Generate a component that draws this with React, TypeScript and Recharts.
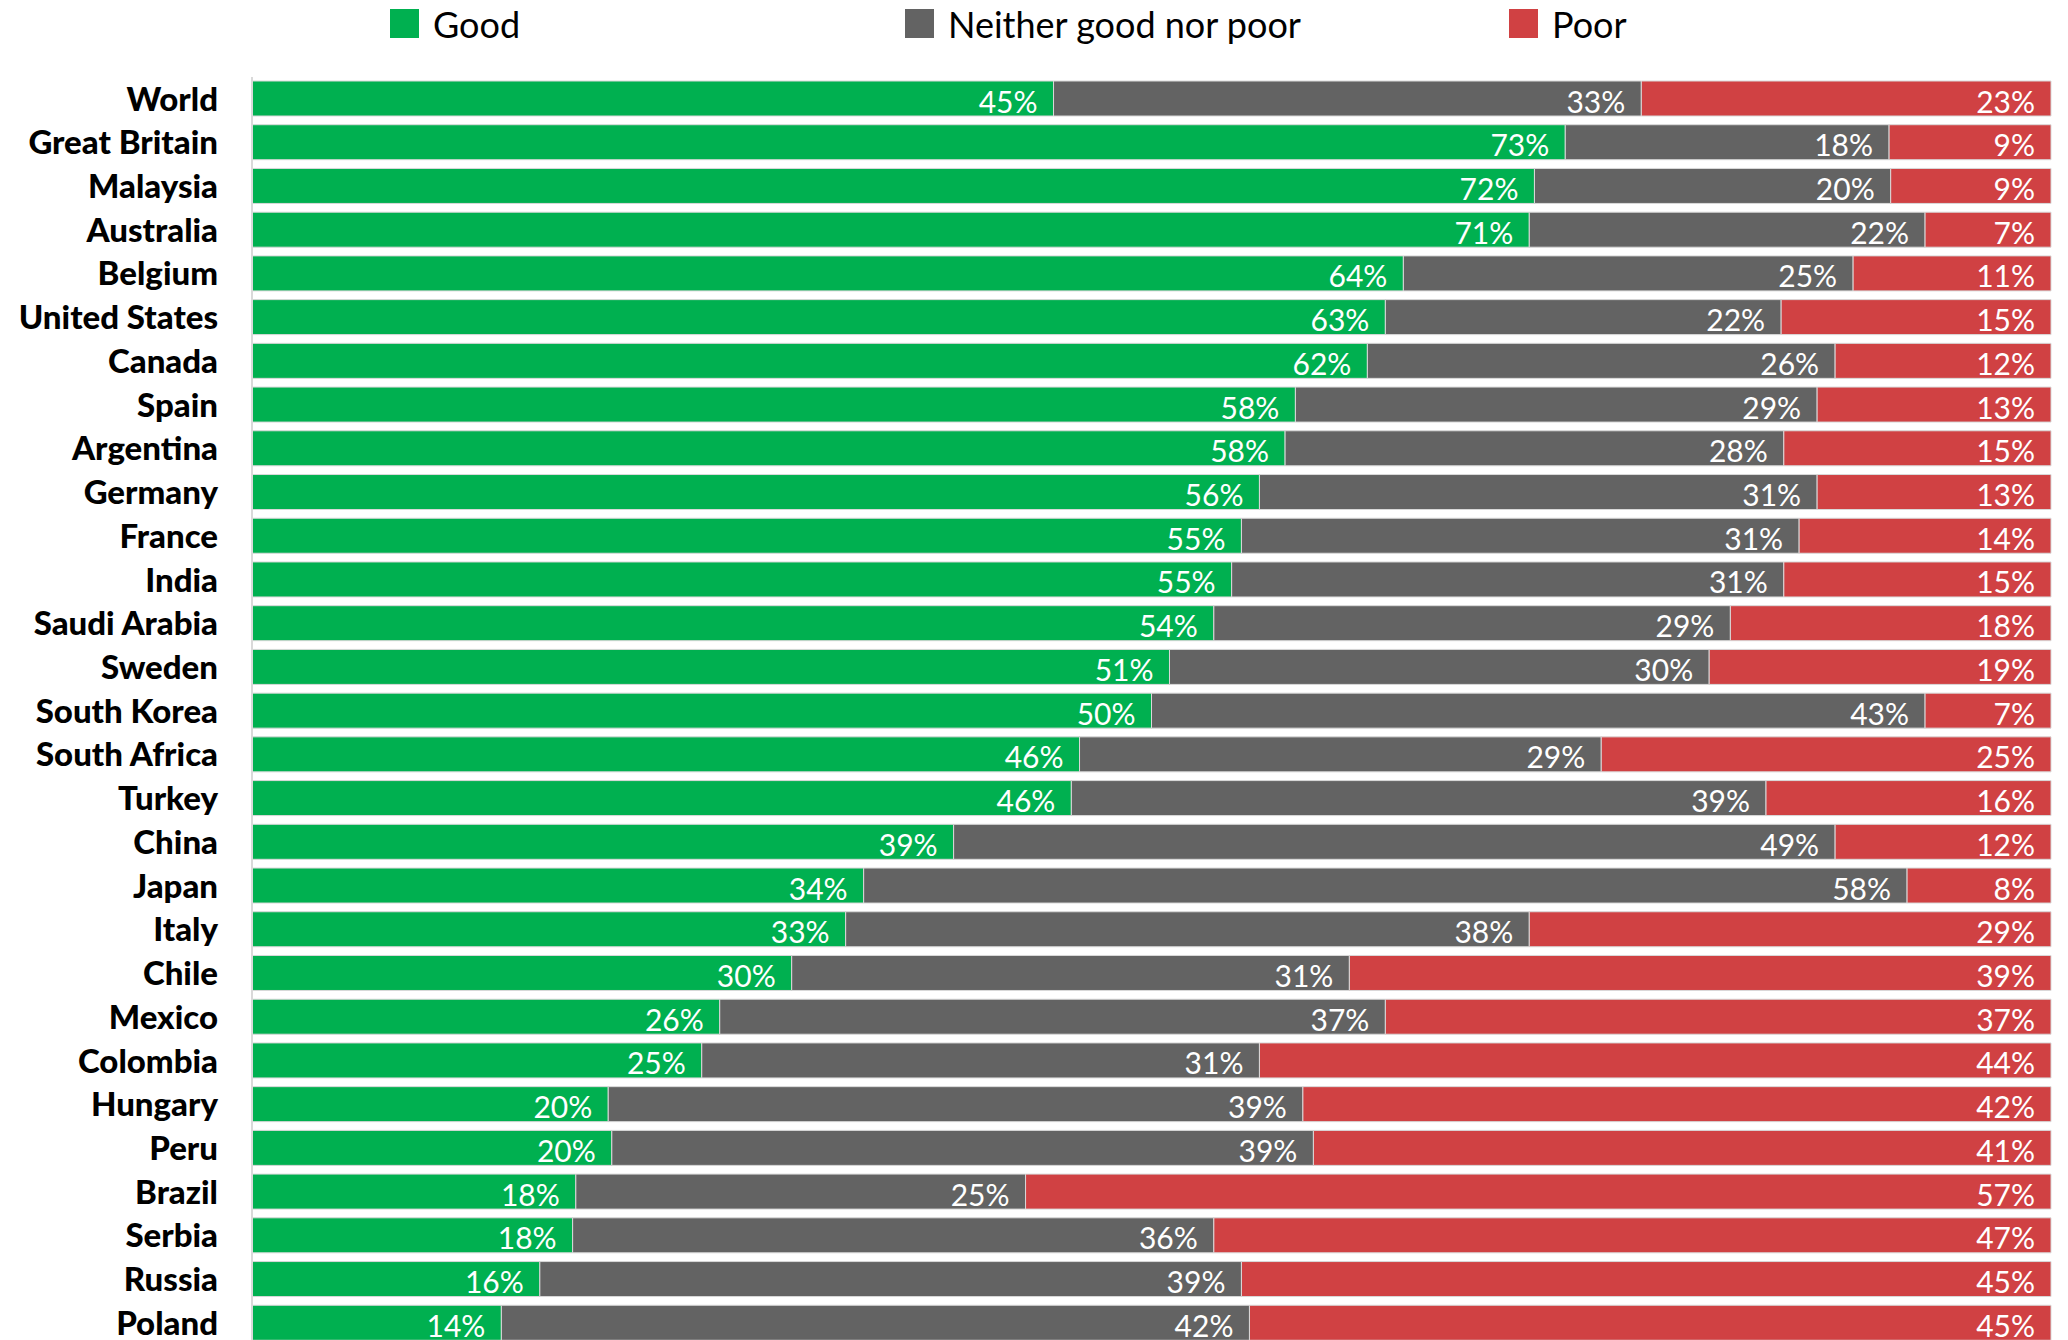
import React from 'react';
import { BarChart, Bar, XAxis, YAxis, Legend, LabelList } from 'recharts';

const countries = [
  'World', 'Great Britain', 'Malaysia', 'Australia', 'Belgium', 'United States', 'Canada',
  'Spain', 'Argentina', 'Germany', 'France', 'India', 'Saudi Arabia', 'Sweden', 'South Korea',
  'South Africa', 'Turkey', 'China', 'Japan', 'Italy', 'Chile', 'Mexico', 'Colombia',
  'Hungary', 'Peru', 'Brazil', 'Serbia', 'Russia', 'Poland',
];
const good = [45, 73, 72, 71, 64, 63, 62, 58, 58, 56, 55, 55, 54, 51, 50, 46, 46, 39, 34, 33, 30, 26, 25, 20, 20, 18, 18, 16, 14];
const neither = [33, 18, 20, 22, 25, 22, 26, 29, 28, 31, 31, 31, 29, 30, 43, 29, 39, 49, 58, 38, 31, 37, 31, 39, 39, 25, 36, 39, 42];
const poor = [23, 9, 9, 7, 11, 15, 12, 13, 15, 13, 14, 15, 18, 19, 7, 25, 16, 12, 8, 29, 39, 37, 44, 42, 41, 57, 47, 45, 45];

const seriesNames = ['Good', 'Neither good nor poor', 'Poor'];
const seriesColors = ['#00B050', '#636363', '#D04143'];

const data = countries.map((name, i) => ({
  name,
  good: good[i],
  neither: neither[i],
  poor: poor[i],
}));

const FONT = 'Lato, "Open Sans", sans-serif';

const ValueLabel = (props: any) => {
  const { x, y, width, height, value } = props;
  if (value == null) return null;
  return (
    <text
      x={x + width - 16}
      y={y + height / 2 + 2}
      fill="#ffffff"
      fontSize={30}
      fontFamily={FONT}
      textAnchor="end"
      dominantBaseline="central"
    >
      {`${value}%`}
    </text>
  );
};

const legendX = [390, 905, 1509];

const CustomLegend = ({ payload }: any) => {
  const items = payload || [];
  return (
    <div style={{ position: 'relative', width: 2068, height: 60 }}>
      {items.map((entry: any, i: number) => (
        <div
          key={i}
          style={{
            position: 'absolute',
            left: legendX[i],
            top: 9,
            display: 'flex',
            alignItems: 'center',
            height: 29,
          }}
        >
          <span style={{ width: 29, height: 29, background: entry.color, display: 'inline-block' }} />
          <span style={{ marginLeft: 14, fontFamily: FONT, fontSize: 36, color: '#000', whiteSpace: 'nowrap' }}>
            {entry.value}
          </span>
        </div>
      ))}
    </div>
  );
};

export default function App() {
  return (
    <div
      style={{
        position: 'fixed',
        top: 0,
        left: 0,
        width: 2068,
        height: 1340,
        overflow: 'hidden',
        background: '#ffffff',
      }}
    >
      <BarChart
        width={2068}
        height={1360}
        data={data}
        layout="vertical"
        stackOffset="expand"
        margin={{ top: 77, right: 17, bottom: 15, left: 0 }}
      >
        <XAxis type="number" hide domain={[0, 1]} />
        <YAxis
          type="category"
          dataKey="name"
          width={252}
          axisLine={{ stroke: '#d9d9d9', strokeWidth: 2 }}
          tickLine={false}
          tickSize={0}
          tickMargin={34}
          interval={0}
          tick={{ fill: '#000', fontSize: 33, fontWeight: 900, fontFamily: FONT }}
        />
        <Legend
          layout="horizontal"
          verticalAlign="middle"
          align="center"
          content={<CustomLegend />}
          wrapperStyle={{ top: 0, left: 0, width: 2068, height: 60 }}
        />
        <Bar dataKey="good" name={seriesNames[0]} stackId="a" fill={seriesColors[0]} barSize={35} stroke="#d9d9d9" strokeWidth={1} isAnimationActive={false}>
          <LabelList dataKey="good" content={<ValueLabel />} />
        </Bar>
        <Bar dataKey="neither" name={seriesNames[1]} stackId="a" fill={seriesColors[1]} barSize={35} stroke="#d9d9d9" strokeWidth={1} isAnimationActive={false}>
          <LabelList dataKey="neither" content={<ValueLabel />} />
        </Bar>
        <Bar dataKey="poor" name={seriesNames[2]} stackId="a" fill={seriesColors[2]} barSize={35} stroke="#d9d9d9" strokeWidth={1} isAnimationActive={false}>
          <LabelList dataKey="poor" content={<ValueLabel />} />
        </Bar>
      </BarChart>
    </div>
  );
}
